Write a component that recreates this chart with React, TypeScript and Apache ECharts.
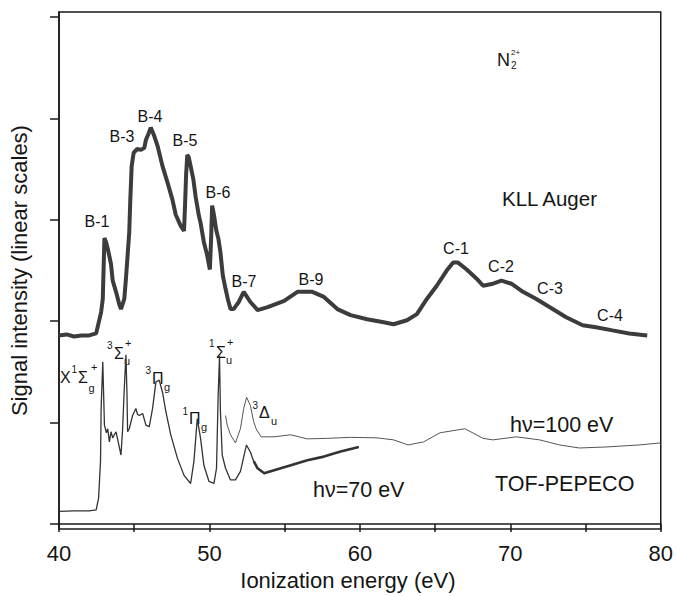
import React, { useEffect, useRef } from "react";
import * as echarts from "echarts";

// ---- Data ----
// KLL Auger spectrum (dotted trace, top)
const augerEnergy = [
  40.0, 40.5, 41.0, 41.5, 42.0, 42.47, 42.8, 42.91, 43.02, 43.13, 43.28, 43.46, 43.57, 43.79, 44.0, 44.12,
  44.34, 44.45, 44.56, 44.67, 44.74, 44.83, 44.96, 45.2, 45.45, 45.67, 45.78, 45.95, 46.1, 46.3, 46.55,
  46.88, 47.21, 47.54, 47.76, 48.09, 48.31, 48.38, 48.45, 48.53, 48.62, 48.75, 48.93, 49.08, 49.3, 49.41,
  49.63, 49.85, 50.03, 50.12, 50.18, 50.3, 50.45, 50.6, 50.73, 50.89, 51.07, 51.22, 51.4, 51.6, 51.95,
  52.28, 52.72, 53.2, 53.87, 54.97, 55.85, 56.84, 57.61, 58.5, 59.38, 60.48, 61.58, 62.24, 63.13, 63.79,
  64.45, 65.11, 65.77, 66.2, 66.5, 67.1, 67.76, 68.19, 68.85, 69.41, 70.07, 70.84, 71.73, 72.6, 73.71,
  74.81, 75.69, 76.79, 77.9, 79.1,
];
const augerSignal = [
  1.86, 1.87, 1.85, 1.86, 1.86, 1.88, 2.09, 2.22, 2.82, 2.78, 2.69, 2.56, 2.4, 2.29, 2.17, 2.12,
  2.22, 2.42, 2.65, 2.88, 3.2, 3.53, 3.66, 3.7, 3.69, 3.71, 3.79, 3.85, 3.91, 3.84, 3.73,
  3.53, 3.37, 3.2, 3.05, 2.94, 2.89, 3.15, 3.45, 3.64, 3.62, 3.53, 3.4, 3.23, 3.04, 2.97,
  2.78, 2.65, 2.51, 2.85, 3.14, 3.05, 2.9, 2.81, 2.68, 2.45, 2.32, 2.22, 2.12, 2.12, 2.19,
  2.29, 2.19, 2.11, 2.14, 2.2, 2.29, 2.29, 2.24, 2.12, 2.06, 2.02, 1.99, 1.97, 2.01, 2.07,
  2.22, 2.35, 2.5, 2.58, 2.58, 2.51, 2.42, 2.35, 2.37, 2.4, 2.37, 2.29, 2.22, 2.14, 2.04,
  1.96, 1.94, 1.91, 1.88, 1.86,
];

// TOF-PEPECO, hv = 70 eV: low-energy part (thin, common to both photon energies)
const pepeco70Energy = [
  40.0, 41.0, 42.0, 42.47, 42.63, 42.76, 42.8, 42.91, 43.02, 43.15, 43.24, 43.35, 43.46, 43.57, 43.68,
  43.79, 43.95, 44.12, 44.23, 44.34, 44.45, 44.52, 44.56, 44.67, 44.89, 45.11, 45.22, 45.34, 45.56,
  45.78, 46.0, 46.22, 46.44, 46.66, 46.88, 47.1, 47.43, 47.87, 48.31, 48.75, 48.97, 49.19, 49.41,
  49.63, 49.97, 50.3, 50.47, 50.58, 50.67, 50.73, 50.85, 51.07, 51.4, 51.73, 52.06, 52.46, 52.72,
  52.94,
];
const pepeco70Signal = [
  0.125, 0.13, 0.13, 0.14, 0.255, 0.62, 1.14, 1.6, 0.975, 0.9, 0.94, 0.81, 0.91, 0.85, 0.88,
  0.91, 0.8, 0.68, 0.94, 1.34, 1.67, 1.27, 0.91, 0.94, 1.07, 1.14, 1.08, 1.07, 1.09,
  0.975, 0.96, 1.14, 1.4, 1.42, 1.3, 1.11, 0.88, 0.65, 0.48, 0.4, 0.62, 1.04, 0.845,
  0.58, 0.42, 0.4, 0.55, 1.27, 1.66, 1.11, 0.68, 0.55, 0.435, 0.435, 0.52, 0.78, 0.71,
  0.62,
];
// hv = 70 eV: noisy high-energy tail
const pepeco70TailEnergy = [52.94, 53.2, 53.64, 54.3, 55.41, 56.51, 57.61, 58.72, 59.93];
const pepeco70TailSignal = [0.62, 0.55, 0.5, 0.53, 0.58, 0.63, 0.665, 0.715, 0.76];

// TOF-PEPECO, hv = 100 eV (upper thin trace)
const pepeco100Energy = [
  51.07, 51.18, 51.4, 51.73, 52.06, 52.28, 52.47, 52.72, 52.94, 53.1, 53.43, 54.3, 55.4, 56.5, 57.84,
  59.38, 61.14, 62.24, 63.2, 64.23, 65.33, 66.98, 68.19, 68.85, 70.4, 71.94, 73.27, 74.59, 76.36,
  78.56, 80.0,
];
const pepeco100Signal = [
  1.07, 0.975, 0.88, 0.8, 0.94, 1.14, 1.25, 1.17, 1.01, 0.94, 0.86, 0.86, 0.88, 0.84, 0.845,
  0.855, 0.85, 0.83, 0.78, 0.81, 0.9, 0.94, 0.845, 0.83, 0.86, 0.83, 0.78, 0.75, 0.76,
  0.78, 0.8,
];

// Axis ticks
const xMin = 40;
const xMax = 80;
const xTickStep = 5;
const xLabelStep = 10;
const yTickValues = [0, 1, 2, 3, 4, 5];

// Auger peak labels
const augerPeakLabels = ["B-1", "B-3", "B-4", "B-5", "B-6", "B-7", "B-9", "C-1", "C-2", "C-3", "C-4"];
const augerPeakLabelPos: [number, number][] = [
  [97, 221], [122, 136], [150, 116], [185, 140], [218, 192], [244, 281],
  [311, 279], [456, 248], [501, 266], [550, 288], [610, 315],
];

const FONT = "Liberation Sans, Arial, Helvetica, sans-serif";
const INK = "#151515";

function txt(text: string, x: number, y: number, size: number, align = "left") {
  return {
    type: "text",
    x,
    y,
    silent: true,
    style: {
      text,
      fontSize: size,
      fontFamily: FONT,
      fill: INK,
      align,
      verticalAlign: "middle",
    },
  };
}

// Spectroscopic term label: pieces of [text, left x, centre y, size]
function term(pieces: [string, number, number, number][]) {
  return {
    type: "group",
    children: pieces.map(([t, x, y, s]) => txt(t, x, y, s)),
  };
}

const toPairs = (xs: number[], ys: number[]) => xs.map((x, i) => [x, ys[i]]);

export default function App() {
  const ref = useRef<HTMLDivElement>(null);

  useEffect(() => {
    document.body.style.margin = "0";
    if (!ref.current) return;
    const chart = echarts.init(ref.current, undefined, { renderer: "svg" });

    const graphic: any[] = [
      ...augerPeakLabels.map((t, i) => txt(t, augerPeakLabelPos[i][0], augerPeakLabelPos[i][1], 16, "center")),
      txt("KLL Auger", 502, 198, 20.5),
      txt("TOF-PEPECO", 495, 484, 21.5),
      txt("hν=100 eV", 510, 425, 21.5),
      txt("hν=70 eV", 313, 490, 21.5),
      // N2 2+
      txt("N", 497, 60, 18),
      txt("2", 511, 65, 10),
      txt("2+", 511, 52, 8),
      // state labels
      term([
        ["X", 60, 377, 16],
        ["1", 71.5, 369, 10],
        ["Σ", 78, 377, 16],
        ["g", 88.5, 388, 11],
        ["+", 91, 367, 11],
      ]),
      term([
        ["3", 107, 345, 10],
        ["Σ", 114, 353, 16],
        ["u", 124, 361, 11],
        ["+", 125, 343, 11],
      ]),
      term([
        ["3", 145.5, 370, 10],
        ["Π", 152, 378, 16],
        ["g", 164, 387, 11],
      ]),
      term([
        ["1", 182.5, 411, 10],
        ["Π", 189, 418, 16],
        ["g", 201, 427, 11],
      ]),
      term([
        ["1", 209, 343, 10],
        ["Σ", 216, 352, 16],
        ["u", 226, 360, 11],
        ["+", 227, 342, 11],
      ]),
      term([
        ["3", 252.5, 405, 10],
        ["Δ", 259, 412, 16],
        ["u", 271, 421, 11],
      ]),
    ];

    chart.setOption({
      animation: false,
      backgroundColor: "#ffffff",
      grid: {
        left: 57,
        right: 14,
        top: 12,
        bottom: 65,
        show: true,
        borderColor: "#1a1a1a",
        borderWidth: 1.5,
        backgroundColor: "transparent",
      },
      xAxis: {
        type: "value",
        min: xMin,
        max: xMax,
        interval: xTickStep,
        name: "Ionization energy (eV)",
        nameLocation: "middle",
        nameGap: 39,
        nameTextStyle: { fontSize: 22, fontFamily: FONT, color: INK, padding: [0, 24, 0, 0] },
        axisLine: { show: true, lineStyle: { color: "#1a1a1a", width: 1.5 } },
        axisTick: { show: true, inside: false, length: 8, lineStyle: { color: "#1a1a1a", width: 1.5 } },
        axisLabel: {
          fontSize: 22,
          fontFamily: FONT,
          color: INK,
          margin: 13,
          formatter: (v: number) => (v % xLabelStep === 0 ? String(v) : ""),
        },
        splitLine: { show: false },
      },
      yAxis: {
        type: "value",
        min: -0.05,
        max: 5.05,
        name: "Signal intensity (linear scales)",
        nameLocation: "middle",
        nameGap: 29,
        nameTextStyle: { fontSize: 22, fontFamily: FONT, color: INK },
        axisLine: { show: true, lineStyle: { color: "#1a1a1a", width: 1.5 } },
        axisTick: {
          show: true,
          inside: false,
          length: 9,
          customValues: yTickValues,
          lineStyle: { color: "#1a1a1a", width: 1.5 },
        },
        axisLabel: { show: false },
        splitLine: { show: false },
      },
      series: [
        {
          name: "KLL Auger",
          type: "line",
          data: toPairs(augerEnergy, augerSignal),
          showSymbol: false,
          lineStyle: { color: "#3c3c3c", width: 4 },
          z: 3,
        },
        {
          name: "hν=100 eV",
          type: "line",
          data: toPairs(pepeco100Energy, pepeco100Signal),
          showSymbol: false,
          lineStyle: { color: "#555555", width: 1 },
          z: 2,
        },
        {
          name: "hν=70 eV",
          type: "line",
          data: toPairs(pepeco70Energy, pepeco70Signal),
          showSymbol: false,
          lineStyle: { color: "#333333", width: 1.3 },
          z: 2,
        },
        {
          name: "hν=70 eV (tail)",
          type: "line",
          data: toPairs(pepeco70TailEnergy, pepeco70TailSignal),
          showSymbol: false,
          lineStyle: { color: "#333333", width: 2.6 },
          z: 2,
        },
      ],
      graphic,
    });

    return () => chart.dispose();
  }, []);

  return <div ref={ref} style={{ width: 676, height: 596 }} />;
}
